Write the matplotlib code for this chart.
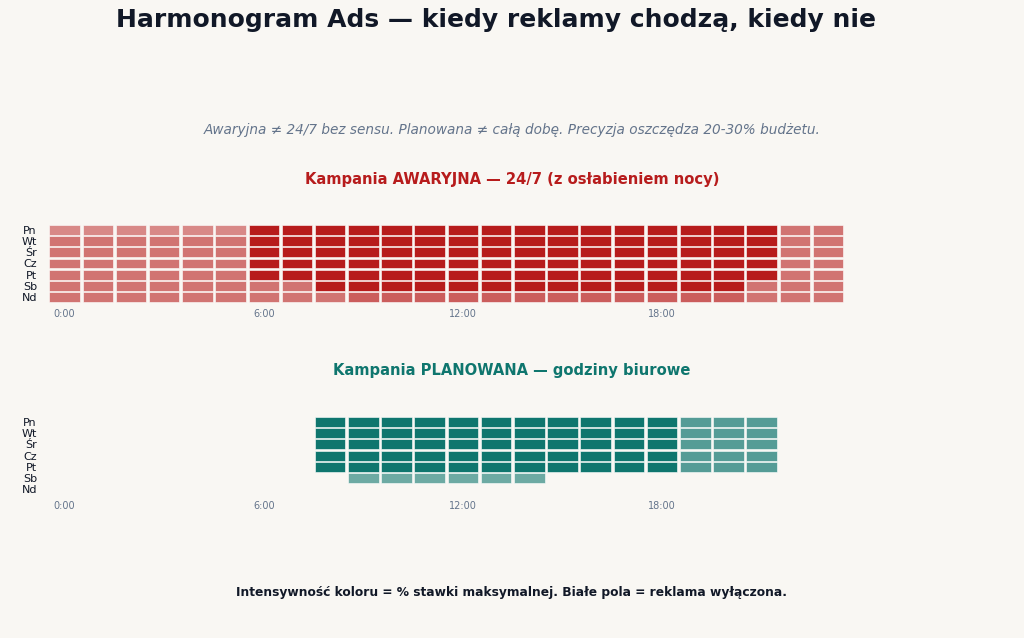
import numpy as np
import matplotlib.pyplot as plt
from matplotlib.colors import LinearSegmentedColormap
from matplotlib.patches import Rectangle

plt.rcParams['font.family'] = 'DejaVu Sans'

# ============================
# DANE
# ============================

days = ['Pn', 'Wt', 'Śr', 'Cz', 'Pt', 'Sb', 'Nd']
hours = list(range(24))
tick_hours = [0, 6, 12, 18]
tick_labels = ['0:00', '6:00', '12:00', '18:00']

# intensywność = % stawki maksymalnej (0 = wyłączone)
awaryjna = [
    [0.5]*6 + [1.0]*16 + [0.6]*2,   # Pn
    [0.6]*6 + [1.0]*16 + [0.6]*2,   # Wt
    [0.6]*6 + [1.0]*16 + [0.6]*2,   # Śr
    [0.6]*6 + [1.0]*16 + [0.6]*2,   # Cz
    [0.6]*6 + [1.0]*16 + [0.6]*2,   # Pt
    [0.6]*8 + [1.0]*13 + [0.6]*3,   # Sb
    [0.6]*9 + [0.7]*12 + [0.6]*3,   # Nd
]

planowana = [
    [0.0]*8 + [1.0]*11 + [0.7]*3 + [0.0]*2,   # Pn
    [0.0]*8 + [1.0]*11 + [0.7]*3 + [0.0]*2,   # Wt
    [0.0]*8 + [1.0]*11 + [0.7]*3 + [0.0]*2,   # Śr
    [0.0]*8 + [1.0]*11 + [0.7]*3 + [0.0]*2,   # Cz
    [0.0]*8 + [1.0]*11 + [0.7]*3 + [0.0]*2,   # Pt
    [0.0]*9 + [0.6]*6 + [0.0]*9,              # Sb
    [0.0]*24,                                 # Nd
]

# ============================
# KOLORY
# ============================

BG = '#f9f7f3'
RED = '#b71c1c'
TEAL = '#0f766e'
DARK = '#111827'
GRAY = '#64748b'


def draw_heat(ax, data, color):
    cmap = LinearSegmentedColormap.from_list('c', [BG, color])
    for d, row in enumerate(data):
        for h, v in zip(hours, row):
            if v == 0:
                continue
            ax.add_patch(Rectangle((h + 0.04, d + 0.06), 0.92, 0.88,
                                   facecolor=cmap(v), edgecolor='white',
                                   linewidth=0.4))
    ax.set_xlim(0, 24)
    ax.set_ylim(7, 0)
    ax.set_facecolor(BG)
    ax.set_xticks([h + 0.5 for h in tick_hours])
    ax.set_xticklabels(tick_labels, fontsize=7, color=GRAY)
    ax.set_yticks(np.arange(7) + 0.5)
    ax.set_yticklabels(days, fontsize=8, color=DARK)
    ax.tick_params(axis='x', length=0, pad=4)
    ax.tick_params(axis='y', length=0, pad=8)
    for s in ax.spines.values():
        s.set_visible(False)


fig = plt.figure(figsize=(10.24, 6.38), dpi=100, facecolor=BG)

ax1 = fig.add_axes([0.0469, 0.525, 0.778, 0.124])
draw_heat(ax1, awaryjna, RED)

ax2 = fig.add_axes([0.0469, 0.224, 0.778, 0.124])
draw_heat(ax2, planowana, TEAL)

fig.text(0.484, 0.968, 'Harmonogram Ads — kiedy reklamy chodzą, kiedy nie',
         ha='center', va='center', fontsize=18, fontweight='bold', color=DARK)
fig.text(0.5, 0.796,
         'Awaryjna ≠ 24/7 bez sensu. Planowana ≠ całą dobę. Precyzja oszczędza 20-30% budżetu.',
         ha='center', va='center', fontsize=9.8, style='italic', color=GRAY)
fig.text(0.5, 0.719, 'Kampania AWARYJNA — 24/7 (z osłabieniem nocy)',
         ha='center', va='center', fontsize=10.6, fontweight='bold', color=RED)
fig.text(0.5, 0.420, 'Kampania PLANOWANA — godziny biurowe',
         ha='center', va='center', fontsize=10.6, fontweight='bold', color=TEAL)
fig.text(0.5, 0.072,
         'Intensywność koloru = % stawki maksymalnej. Białe pola = reklama wyłączona.',
         ha='center', va='center', fontsize=8.8, fontweight='bold', color=DARK)

fig.savefig('out.png', dpi=100, facecolor=BG)
